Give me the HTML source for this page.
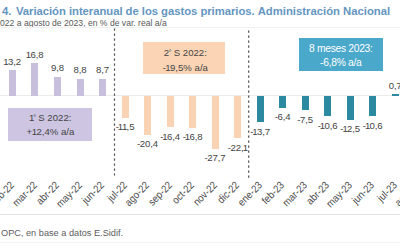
<!DOCTYPE html>
<html><head><meta charset="utf-8"><style>
html,body{margin:0;padding:0;}
body{width:400px;height:250px;overflow:hidden;background:#fff;position:relative;font-family:"Liberation Sans",sans-serif;}
.t{position:absolute;left:2px;top:5px;font-weight:bold;font-size:11.3px;letter-spacing:-0.04px;color:#6596c1;white-space:nowrap;}
.st{position:absolute;left:0px;top:17.8px;font-size:8.6px;color:#5a5a5a;white-space:nowrap;}
.sep{position:absolute;left:0;width:400px;height:1px;background:#e4e4e4;}
.base{position:absolute;left:0;width:400px;top:94.8px;height:1px;background:#ebebeb;}
.bar{position:absolute;width:7.0px;}
.vl{position:absolute;width:40px;text-align:center;font-size:9.6px;letter-spacing:-0.1px;color:#444;white-space:nowrap;line-height:12px;}
.xl{position:absolute;width:60px;text-align:right;font-size:10.5px;color:#4a4a4a;white-space:nowrap;line-height:12px;transform-origin:100% 50%;transform:rotate(-45deg) scaleX(0.9);}
.one{margin:0 -0.6px}
.hy{margin-right:-0.4px}
.dash{position:absolute;width:0;border-left:1.3px dashed #555;}
.box{position:absolute;text-align:center;font-size:9.6px;line-height:14px;color:#444;}
.deg{font-size:7px;position:relative;top:-1px;margin-left:-0.3px;margin-right:-0.5px}
.src{position:absolute;left:1px;top:228px;font-size:9.2px;color:#5c5c5c;white-space:nowrap;}
</style></head><body>
<div class="t">4.<span style="margin-left:1.5px"> </span>Variación interanual de los gastos primarios. <span style="letter-spacing:0">Administración Nacional</span></div>
<div class="st">022 a agosto de 2023, en % de var. real a/a</div>
<div class="sep" style="top:27px;background:#f0f0f0"></div>
<div class="base"></div>
<svg width="400" height="250" style="position:absolute;left:0;top:0">
<line x1="114.5" y1="28.4" x2="114.5" y2="175.5" stroke="#4d4d4d" stroke-width="1.2" stroke-dasharray="2.4 2.6"/>
<line x1="248.7" y1="30.4" x2="248.7" y2="178.2" stroke="#4d4d4d" stroke-width="1.2" stroke-dasharray="2.4 2.6"/>
</svg>
<div class="bar" style="left:8.98px;top:70.26px;height:25.34px;background:#c8bfdd"></div>
<div class="vl" style="left:-7.52px;top:55.66px"><span class="one">1</span>3,2</div>
<div class="bar" style="left:31.49px;top:63.34px;height:32.26px;background:#c8bfdd"></div>
<div class="vl" style="left:14.99px;top:48.74px"><span class="one">1</span>6,8</div>
<div class="bar" style="left:54.01px;top:76.78px;height:18.82px;background:#c8bfdd"></div>
<div class="vl" style="left:37.51px;top:62.18px">9,8</div>
<div class="bar" style="left:76.52px;top:78.70px;height:16.90px;background:#c8bfdd"></div>
<div class="vl" style="left:60.02px;top:64.10px">8,8</div>
<div class="bar" style="left:99.03px;top:78.90px;height:16.70px;background:#c8bfdd"></div>
<div class="vl" style="left:82.53px;top:64.30px">8,7</div>
<div class="bar" style="left:121.55px;top:95.60px;height:22.08px;background:#f9d3b4"></div>
<div class="vl" style="left:105.05px;top:121.28px"><span class="hy">-</span><span class="one">1</span><span class="one">1</span>,5</div>
<div class="bar" style="left:144.06px;top:95.60px;height:39.17px;background:#f9d3b4"></div>
<div class="vl" style="left:127.56px;top:138.37px"><span class="hy">-</span>20,4</div>
<div class="bar" style="left:166.57px;top:95.60px;height:31.49px;background:#f9d3b4"></div>
<div class="vl" style="left:150.07px;top:130.69px"><span class="hy">-</span><span class="one">1</span>6,4</div>
<div class="bar" style="left:189.08px;top:95.60px;height:32.26px;background:#f9d3b4"></div>
<div class="vl" style="left:172.58px;top:131.46px"><span class="hy">-</span><span class="one">1</span>6,8</div>
<div class="bar" style="left:211.60px;top:95.60px;height:53.18px;background:#f9d3b4"></div>
<div class="vl" style="left:195.10px;top:152.38px"><span class="hy">-</span>27,7</div>
<div class="bar" style="left:234.11px;top:95.60px;height:42.43px;background:#f9d3b4"></div>
<div class="vl" style="left:217.61px;top:141.63px"><span class="hy">-</span>22,<span class="one">1</span></div>
<div class="bar" style="left:256.62px;top:95.60px;height:26.30px;background:#2b8a9f"></div>
<div class="vl" style="left:240.12px;top:125.50px"><span class="hy">-</span><span class="one">1</span>3,7</div>
<div class="bar" style="left:279.14px;top:95.60px;height:12.29px;background:#2b8a9f"></div>
<div class="vl" style="left:262.64px;top:111.49px"><span class="hy">-</span>6,4</div>
<div class="bar" style="left:301.65px;top:95.60px;height:14.40px;background:#2b8a9f"></div>
<div class="vl" style="left:285.15px;top:113.60px"><span class="hy">-</span>7,5</div>
<div class="bar" style="left:324.16px;top:95.60px;height:20.35px;background:#2b8a9f"></div>
<div class="vl" style="left:307.66px;top:119.55px"><span class="hy">-</span><span class="one">1</span>0,6</div>
<div class="bar" style="left:346.68px;top:95.60px;height:24.00px;background:#2b8a9f"></div>
<div class="vl" style="left:330.18px;top:123.20px"><span class="hy">-</span><span class="one">1</span>2,5</div>
<div class="bar" style="left:369.19px;top:95.60px;height:20.35px;background:#2b8a9f"></div>
<div class="vl" style="left:352.69px;top:119.55px"><span class="hy">-</span><span class="one">1</span>0,6</div>
<div class="bar" style="left:391.70px;top:94.26px;height:1.34px;background:#2b8a9f"></div>
<div class="vl" style="left:375.20px;top:79.66px">0,7</div>
<div class="xl" style="left:-47.82px;top:177.20px">feb-22</div>
<div class="xl" style="left:-25.31px;top:177.20px">mar-22</div>
<div class="xl" style="left:-2.79px;top:177.20px">abr-22</div>
<div class="xl" style="left:19.72px;top:177.20px">may-22</div>
<div class="xl" style="left:42.23px;top:177.20px">jun-22</div>
<div class="xl" style="left:64.75px;top:177.20px">jul-22</div>
<div class="xl" style="left:87.26px;top:177.20px">ago-22</div>
<div class="xl" style="left:109.77px;top:177.20px">sep-22</div>
<div class="xl" style="left:132.28px;top:177.20px">oct-22</div>
<div class="xl" style="left:154.80px;top:177.20px">nov-22</div>
<div class="xl" style="left:177.31px;top:177.20px">dic-22</div>
<div class="xl" style="left:199.82px;top:177.20px">ene-23</div>
<div class="xl" style="left:222.34px;top:177.20px">feb-23</div>
<div class="xl" style="left:244.85px;top:177.20px">mar-23</div>
<div class="xl" style="left:267.36px;top:177.20px">abr-23</div>
<div class="xl" style="left:289.88px;top:177.20px">may-23</div>
<div class="xl" style="left:312.39px;top:177.20px">jun-23</div>
<div class="xl" style="left:334.90px;top:177.20px">jul-23</div>
<div class="xl" style="left:357.41px;top:177.20px">ago-23</div>
<div class="box" style="left:7.6px;top:108px;width:84.2px;height:32.5px;background:#cdc5e1;padding-top:2.6px;box-sizing:border-box;padding-left:1.5px;line-height:13.8px"><span class="one">1</span><span class="deg">°</span> S 2022:<br>+<span class="one">1</span>2,4% a/a</div>
<div class="box" style="left:143.1px;top:42.4px;width:81.9px;height:31.4px;background:#fbd4b5;padding-top:3.3px;box-sizing:border-box;padding-left:2.5px">2<span class="deg">°</span> S 2022:<br>-<span class="one">1</span>9,5% a/a</div>
<div class="box" style="left:298.6px;top:37.6px;width:84.4px;height:33.2px;background:#4aa8ca;color:#fff;padding-top:4.2px;box-sizing:border-box;font-size:10.3px;letter-spacing:-0.3px;line-height:14px">8 meses 2023:<br>-6,8% a/a</div>
<div class="sep" style="top:214px;background:#e2e2e2"></div>
<div class="src">OPC, en base a datos E.Sidif.</div>
<div class="sep" style="top:241.5px;background:#f4f4f4"></div>
</body></html>
